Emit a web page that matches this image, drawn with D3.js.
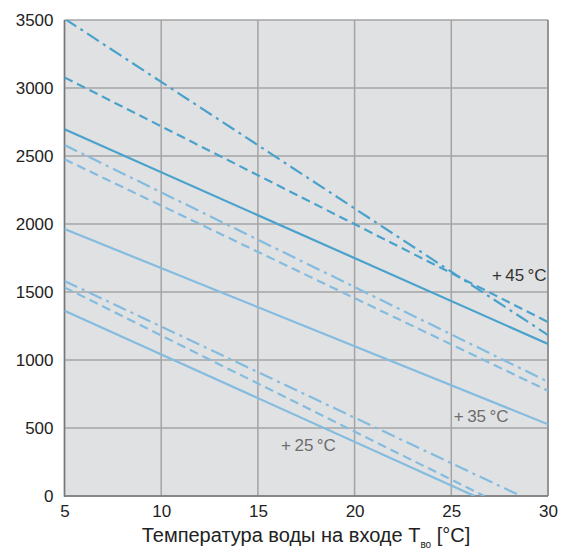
<!DOCTYPE html>
<html><head><meta charset="utf-8">
<script src="https://cdn.jsdelivr.net/npm/d3@7"></script>
<style>
body{margin:0;background:#fff;}
text{font-family:"Liberation Sans",Arial,sans-serif;}
</style></head>
<body>
<svg id="c" width="561" height="557"></svg>
<script>
const xTicks = [5,10,15,20,25,30];
const yTicks = [0,500,1000,1500,2000,2500,3000,3500];
// each series: [temperature, value] end points
const s45dashdot = [[5,3510],[30,1184]];
const s45dashed  = [[5,3078],[30,1279]];
const s45solid   = [[5,2696],[30,1118]];
const s35dashdot = [[5,2581],[30,840]];
const s35dashed  = [[5,2476],[30,774]];
const s35solid   = [[5,1963],[30,527]];
const s25dashdot = [[5,1581],[28.6,0]];
const s25dashed  = [[5,1534],[26.7,0]];
const s25solid   = [[5,1362],[26.2,0]];
const labels = [
  {t:"+\u200945\u2009°C", x:27.1, y:1580, c:"#333"},
  {t:"+\u200935\u2009°C", x:25.13, y:544, c:"#6d6d6d"},
  {t:"+\u200925\u2009°C", x:16.2, y:331, c:"#6d6d6d"}
];

const svg = d3.select("#c");
const L=64.5, R=548, T=20, B=496;
const x = d3.scaleLinear().domain([5,30]).range([L,R]);
const y = d3.scaleLinear().domain([0,3500]).range([B,T]);

svg.append("defs").append("clipPath").attr("id","clip")
  .append("rect").attr("x",L).attr("y",T).attr("width",R-L).attr("height",B-T);

svg.append("rect").attr("x",L).attr("y",T).attr("width",R-L).attr("height",B-T).attr("fill","#e0e1e3");

const grid = svg.append("g");
grid.selectAll(".vx").data(xTicks).join("line")
  .attr("x1",d=>x(d)).attr("x2",d=>x(d)).attr("y1",T).attr("y2",B)
  .attr("stroke","#a4a4a6").attr("stroke-width",1.5);
grid.selectAll(".hy").data(yTicks).join("line")
  .attr("y1",d=>y(d)).attr("y2",d=>y(d)).attr("x1",L).attr("x2",R)
  .attr("stroke","#a4a4a6").attr("stroke-width",1.5);
svg.append("line").attr("x1",L).attr("x2",L).attr("y1",T).attr("y2",B+1).attr("stroke","#777").attr("stroke-width",1.5);
svg.append("line").attr("x1",L).attr("x2",R).attr("y1",B).attr("y2",B).attr("stroke","#777").attr("stroke-width",1.5);
svg.append("line").attr("x1",R).attr("x2",R).attr("y1",T).attr("y2",B).attr("stroke","#8a8a8a").attr("stroke-width",1.5);

const c45="#4aa2cc", cLo="#84bce0";
const series = [
  {d:s45dashdot,c:c45,dash:"14,5,3,5"},
  {d:s45dashed,c:c45,dash:"9,5"},
  {d:s45solid,c:c45,dash:null},
  {d:s35dashdot,c:cLo,dash:"14,5,3,5"},
  {d:s35dashed,c:cLo,dash:"9,5"},
  {d:s35solid,c:cLo,dash:null},
  {d:s25dashdot,c:cLo,dash:"14,5,3,5"},
  {d:s25dashed,c:cLo,dash:"9,5"},
  {d:s25solid,c:cLo,dash:null}
];
const line = d3.line().x(d=>x(d[0])).y(d=>y(d[1]));
svg.append("g").attr("clip-path","url(#clip)").selectAll("path").data(series).join("path")
  .attr("d",d=>line(d.d)).attr("fill","none").attr("stroke",d=>d.c)
  .attr("stroke-width",2.2).attr("stroke-dasharray",d=>d.dash);

const xAxis = d3.axisBottom(x).tickValues(xTicks).tickFormat(d3.format("d")).tickSize(0).tickPadding(9);
const gx = svg.append("g").attr("transform",`translate(0,${B})`).call(xAxis);
gx.select(".domain").remove();
gx.attr("font-family",null).attr("font-size",null);
gx.selectAll("text").attr("font-size",17).attr("fill","#222");
const yAxis = d3.axisLeft(y).tickValues(yTicks).tickFormat(d3.format("d")).tickSize(0).tickPadding(11);
const gy = svg.append("g").attr("transform",`translate(${L},0)`).call(yAxis);
gy.select(".domain").remove();
gy.attr("font-family",null).attr("font-size",null);
gy.selectAll("text").attr("font-size",17).attr("fill","#222");

svg.selectAll(".lbl").data(labels).join("text")
  .attr("x",d=>x(d.x)).attr("y",d=>y(d.y)).attr("font-size",17).attr("fill",d=>d.c).text(d=>d.t);

const title = svg.append("text").attr("x",306).attr("y",542).attr("text-anchor","middle")
  .attr("font-size",20).attr("fill","#222");
title.append("tspan").text("Температура воды на входе T");
title.append("tspan").attr("font-size",10).attr("dy",6).text("во");
title.append("tspan").attr("dy",-6).text(" [°C]");
</script>
</body></html>
